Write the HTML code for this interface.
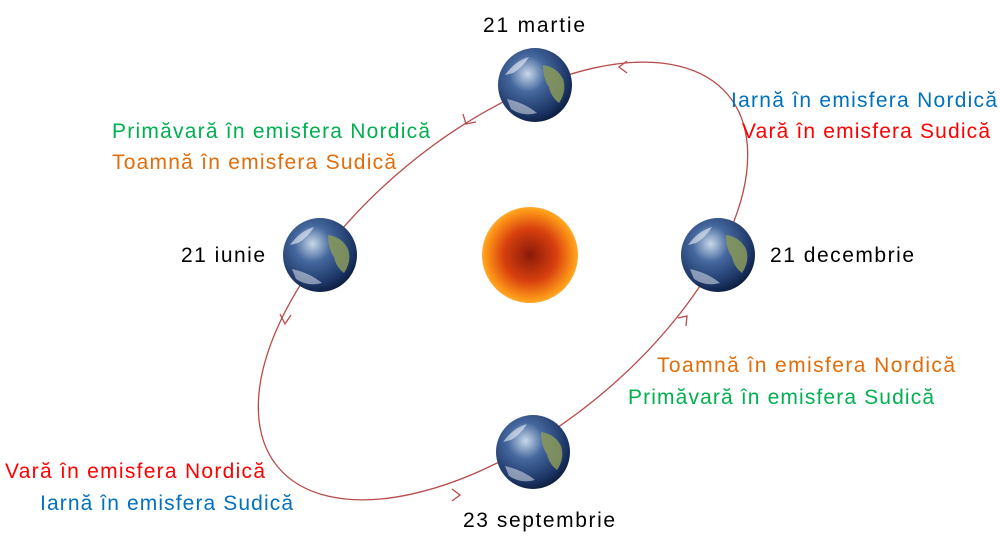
<!DOCTYPE html>
<html><head><meta charset="utf-8"><style>
html,body{margin:0;padding:0;background:#fff;width:1000px;height:542px;overflow:hidden}
svg{display:block}
text{font-family:"Liberation Sans",sans-serif;font-size:21px}
</style></head><body>
<svg width="1000" height="542" viewBox="0 0 1000 542">
<defs>
<radialGradient id="earth" cx="40%" cy="35%" r="70%">
<stop offset="0" stop-color="#c8d8ea"/><stop offset="0.35" stop-color="#45689e"/><stop offset="0.8" stop-color="#1b3464"/><stop offset="1" stop-color="#0a1a38"/></radialGradient>
<radialGradient id="sun" cx="50%" cy="50%" r="55%">
<stop offset="0" stop-color="#8a1a08"/><stop offset="0.5" stop-color="#d8400e"/><stop offset="0.85" stop-color="#ff9a18"/><stop offset="1" stop-color="#ffc050"/></radialGradient>
<g id="earthG">
<circle r="37" fill="url(#earth)"/>
<path d="M8,-20 q14,2 20,14 q4,12 -4,24 q-8,-6 -10,-16 q-6,-8 -6,-22z" fill="#8a9a5a" opacity="0.85"/>
<path d="M-30,-10 q10,-14 24,-18 q-6,10 -16,16z" fill="#eef2f8" opacity="0.6"/>
<path d="M-28,14 q18,4 30,14 q-14,4 -26,-4z" fill="#eef2f8" opacity="0.5"/>
</g>
</defs>
<ellipse cx="503" cy="281" rx="292" ry="150" transform="rotate(-39.5 503 281)" fill="none" stroke="#b84a4a" stroke-width="1.3"/>
<g fill="none" stroke="#b84a4a" stroke-width="1.3">
<polyline points="627,61 619,67 627,73"/>
<polyline points="463,114 466,124 476,122"/>
<polyline points="280,314 285,324 291,315"/>
<polyline points="452,489 460,495 452,501"/>
<polyline points="678,318 687,316 686,326"/>
</g>
<circle cx="530" cy="255" r="48" fill="url(#sun)"/>
<use href="#earthG" x="535" y="85"/>
<use href="#earthG" x="320" y="255"/>
<use href="#earthG" x="718" y="255"/>
<use href="#earthG" x="533" y="452"/>
<text x="483" y="32" fill="#000" textLength="102">21 martie</text>
<text x="181" y="262" fill="#000" textLength="84">21 iunie</text>
<text x="770" y="262" fill="#000" textLength="144">21 decembrie</text>
<text x="463" y="527" fill="#000" textLength="152">23 septembrie</text>
<text x="112" y="138" fill="#00b050" textLength="318">Primăvară în emisfera Nordică</text>
<text x="112" y="169" fill="#e36c09" textLength="284">Toamnă în emisfera Sudică</text>
<text x="731" y="107" fill="#0070c0" textLength="266">Iarnă în emisfera Nordică</text>
<text x="742" y="138" fill="#ff0000" textLength="248">Vară în emisfera Sudică</text>
<text x="657" y="372" fill="#e36c09" textLength="298">Toamnă în emisfera Nordică</text>
<text x="628" y="404" fill="#00b050" textLength="306">Primăvară în emisfera Sudică</text>
<text x="5" y="478" fill="#ff0000" textLength="260">Vară în emisfera Nordică</text>
<text x="40" y="510" fill="#0070c0" textLength="253">Iarnă în emisfera Sudică</text>
</svg>
</body></html>
